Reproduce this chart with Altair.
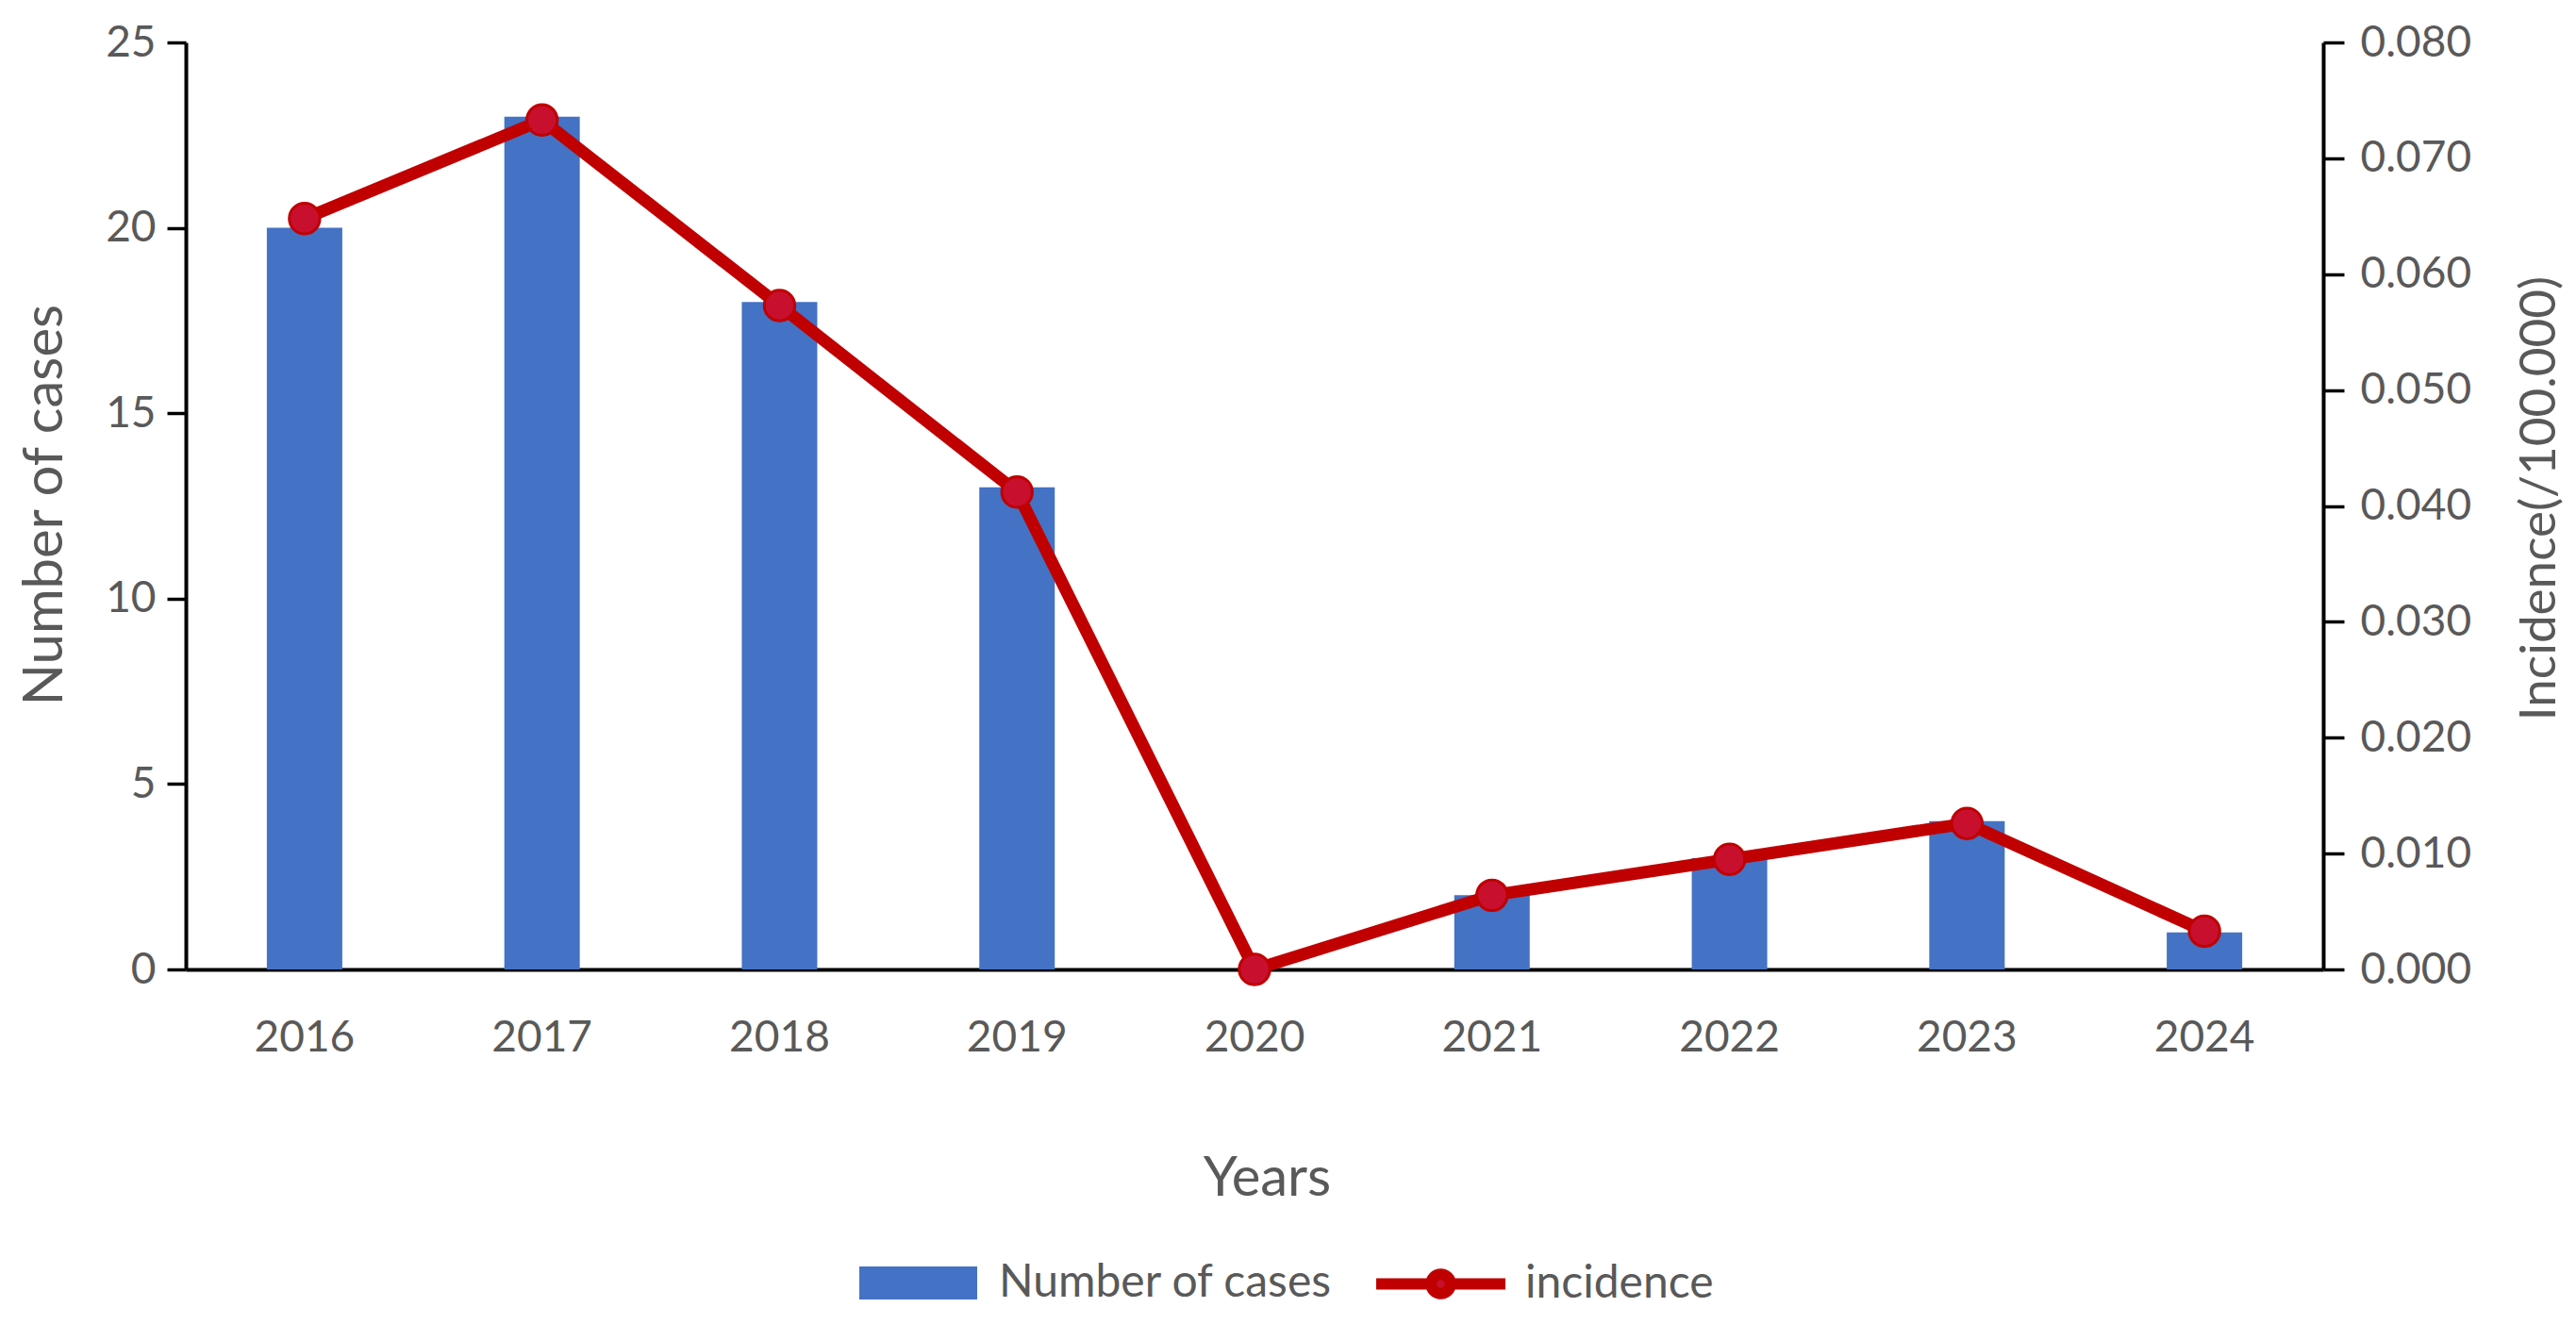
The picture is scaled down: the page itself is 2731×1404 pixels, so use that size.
import altair as alt
import pandas as pd

years = ["2016", "2017", "2018", "2019", "2020", "2021", "2022", "2023", "2024"]
cases = [20, 23, 18, 13, 0, 2, 3, 4, 1]
incidence = [0.0648, 0.0733, 0.0573, 0.0412, 0.0, 0.0064, 0.0095, 0.0126, 0.0033]
left_ticks = [0, 5, 10, 15, 20, 25]
right_ticks = [0.0, 0.01, 0.02, 0.03, 0.04, 0.05, 0.06, 0.07, 0.08]

df = pd.DataFrame({"year": years, "cases": cases, "incidence": incidence})
df["s1"] = "Number of cases"
df["s2"] = "incidence"

FONT = "Lato"
TXT = "#595959"
W, H = 2266, 983

x_enc = alt.X(
    "year:O",
    sort=years,
    scale=alt.Scale(paddingInner=0.68, paddingOuter=0.34),
    axis=alt.Axis(
        title="Years", labelAngle=0, ticks=False, tickSize=0, labelPadding=50,
        labelFont=FONT, labelFontSize=46, labelColor=TXT,
        titleFont=FONT, titleFontSize=58, titleColor=TXT, titleFontWeight="normal",
        titleBaseline="top", titleX=1146, titleY=193, titleAlign="center", titleAnchor="start",
        domainColor="black", domainWidth=4, grid=False,
    ),
)

bars = alt.Chart(df).mark_bar(size=80).encode(
    x=x_enc,
    y=alt.Y(
        "cases:Q",
        scale=alt.Scale(domain=[0, 25], nice=False),
        axis=alt.Axis(
            title="Number of cases", values=left_ticks, orient="left",
            tickSize=20, tickWidth=3.5, tickColor="black", labelPadding=12,
            labelFont=FONT, labelFontSize=46, labelColor=TXT,
            titleFont=FONT, titleFontSize=58, titleColor=TXT, titleFontWeight="normal",
            titleAngle=270, titleBaseline="top", titleAlign="center",
            titleX=-178, titleY=490, titleAnchor="start",
            domainColor="black", domainWidth=4, grid=False,
        ),
    ),
    fill=alt.Fill(
        "s1:N",
        scale=alt.Scale(domain=["Number of cases"], range=["#4472C4"]),
        legend=alt.Legend(
            title=None, orient="none", legendX=714, legendY=1253, padding=0,
            symbolType="M-1,-0.28L1,-0.28L1,0.28L-1,0.28Z", symbolSize=15625,
            symbolStrokeWidth=0, labelFont=FONT, labelFontSize=48, labelColor=TXT,
            labelOffset=23, labelLimit=1000,
        ),
    ),
)

line = alt.Chart(df).mark_line(
    strokeWidth=13, strokeJoin="round", strokeCap="round",
    point=alt.OverlayMarkDef(filled=True, size=1050, fill="#C8102E", stroke="#C00000",
                             strokeWidth=3, opacity=1),
).encode(
    x=alt.X("year:O", sort=years),
    y=alt.Y(
        "incidence:Q",
        scale=alt.Scale(domain=[0, 0.08], nice=False),
        axis=alt.Axis(
            title="Incidence(/100.000)", values=right_ticks, format=".3f", orient="right",
            tickSize=22, tickWidth=3.5, tickColor="black", labelPadding=17,
            labelFont=FONT, labelFontSize=46, labelColor=TXT,
            titleFont=FONT, titleFontSize=53, titleColor=TXT, titleFontWeight="normal",
            titleAngle=270, titleBaseline="top", titleAlign="center",
            titleX=203, titleY=483, titleAnchor="start",
            domainColor="black", domainWidth=4, grid=False,
        ),
    ),
    stroke=alt.Stroke(
        "s2:N",
        scale=alt.Scale(domain=["incidence"], range=["#C00000"]),
        legend=alt.Legend(
            title=None, orient="none", legendX=1256, legendY=1242, padding=0,
            symbolType="M-1,0L-0.15,0M0.15,0L1,0M-0.15,0A0.15,0.15 0 1,1 0.15,0A0.15,0.15 0 1,1 -0.15,0Z",
            symbolSize=18769, symbolStrokeWidth=12, symbolFillColor="#C8102E",
            labelFont=FONT, labelFontSize=48, labelColor=TXT, labelOffset=15, labelLimit=1000,
        ),
    ),
)

chart = alt.layer(bars, line).resolve_scale(
    y="independent", fill="independent", stroke="independent"
).properties(
    width=W, height=H,
    autosize=alt.AutoSizeParams(type="none"),
    padding={"left": 189, "top": 37, "right": 260, "bottom": 368},
).configure(background="white").configure_view(stroke=None)

chart.save("out.html", embed_options={"renderer": "svg", "actions": False})
